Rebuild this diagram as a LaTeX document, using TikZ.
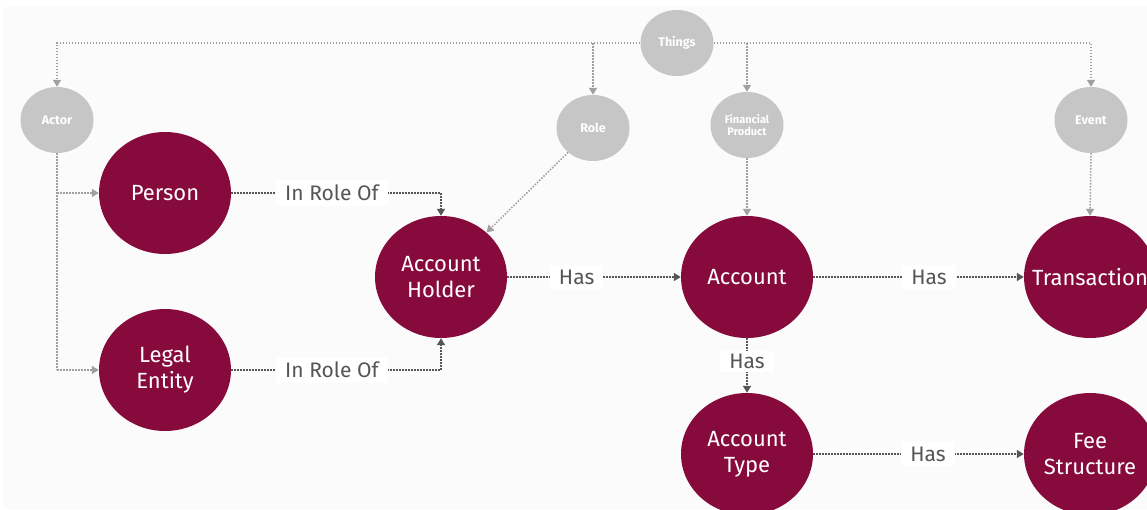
\documentclass[tikz,border=0pt]{standalone}
\usepackage{fontspec}
\setmainfont{Fira Sans}
\usetikzlibrary{shapes.geometric,arrows.meta}
\definecolor{maroon}{HTML}{870A3C}
\definecolor{softgray}{HTML}{C6C6C6}
\definecolor{treeline}{HTML}{A0A0A0}
\definecolor{relline}{HTML}{555555}
\definecolor{paper}{HTML}{FBFBFB}
\begin{document}
\begin{tikzpicture}[x=1pt,y=-1pt,
  entitytext/.style={text=white,align=center,inner sep=0pt,
    font=\fontsize{22}{26}\selectfont},
  entity/.style={ellipse,fill=maroon,entitytext,
    minimum width=132pt,minimum height=122pt},
  category/.style={ellipse,fill=softgray,text=white,inner sep=0pt,
    minimum width=73pt,minimum height=66pt,align=center,
    font=\fontsize{12.5}{13.5}\selectfont\bfseries},
  smallcat/.style={category,font=\fontsize{11}{12.5}\selectfont\bfseries},
  treelink/.style={draw=treeline,line width=1.5pt,dash pattern=on 1.5pt off 1.5pt,
    -{Triangle[length=7pt,width=8pt,fill=treeline]}},
  treebar/.style={draw=treeline,line width=1.5pt,dash pattern=on 1.5pt off 1.5pt},
  rellink/.style={draw=relline,line width=1.5pt,dash pattern=on 1.5pt off 1.5pt,
    -{Triangle[length=7pt,width=8pt,fill=relline]}},
  rellabel/.style={fill=white,text=relline,inner xsep=9pt,inner ysep=5pt,
    font=\fontsize{21}{24}\selectfont}]
  % page and backdrop
  \useasboundingbox (0,0) rectangle (1147,509);
  \clip (0,0) rectangle (1147,509);
  \fill[white] (0,0) rectangle (1147,509);
  \fill[paper] (3,7) rectangle (1147,509);

  % upper ontology
  \node[category] (things) at (677,43) {Things};
  \node[category] (actor)  at (57,120) {Actor};
  \node[category] (role)   at (593,128) {Role};
  \node[smallcat] (fp)     at (747,125) {Financial\\Product};
  \node[category] (event)  at (1091,120) {Event};

  % domain entities
  \node[entity] (person)  at (165,193) {Person};
  \node[entity] (legal)   at (165,370) {Legal\\Entity};
  \node[entity] (holder)  at (441,277) {Account\\Holder};
  \node[entity] (account) at (747,277) {Account};
  % the long name overflows its disc, so it is set as a centred label
  \node[entity,label={[entitytext]center:Transaction}] (trans) at (1090,277) {};
  \node[entity] (atype)   at (747,454) {Account\\Type};
  \node[entity] (fee)     at (1090,454) {Fee\\Structure};

  % Things hierarchy
  \draw[treelink] (things.west) -- (actor |- things) -- (actor.north);
  \draw[treelink] (role |- things) -- (role.north);
  \draw[treelink] (things.east) -- (event |- things) -- (event.north);
  \draw[treelink] (fp |- things) -- (fp.north);

  % Actor specialisations
  \draw[treebar] (actor.south) -- (actor |- legal);
  \draw[treelink] (actor |- person) -- (person.west);
  \draw[treelink] (actor |- legal) -- (legal.west);

  % typing links into the domain
  \draw[treelink] (role) -- (holder);
  \draw[treelink] (fp.south) -- (account.north);
  \draw[treelink] (event.south) -- (trans.north);

  % relations
  \draw[rellink] (person.east) -- node[rellabel,pos=0.48] {In Role Of} (holder |- person) -- (holder.north);
  \draw[rellink] (legal.east) -- node[rellabel,pos=0.48] {In Role Of} (holder |- legal) -- (holder.south);
  \draw[rellink] (holder) -- node[rellabel,pos=0.4] {Has} (account);
  \draw[rellink] (account) -- node[rellabel,pos=0.55] {Has} (trans);
  \draw[rellink] (account) -- node[rellabel,pos=0.42,inner ysep=3pt] {Has} (atype);
  \draw[rellink] (atype) -- node[rellabel,pos=0.545] {Has} (fee);
\end{tikzpicture}
\end{document}
